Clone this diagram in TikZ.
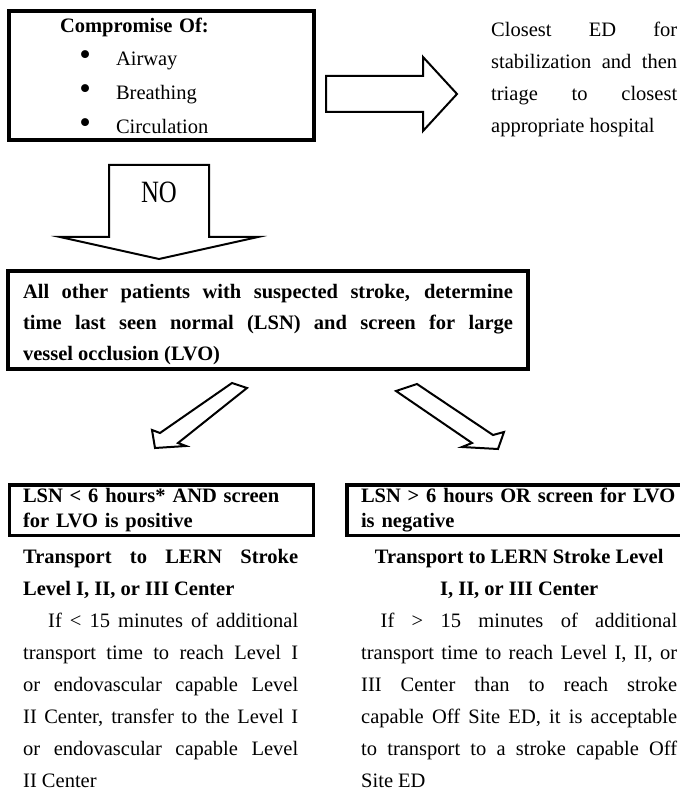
\documentclass[tikz,border=0pt]{standalone}
\usepackage{fontspec}
\setmainfont{Liberation Serif}
\newfontfamily\narrowserif[FakeStretch=0.8]{Liberation Serif}
\tolerance=10000 \hbadness=10000 \hyphenpenalty=10000
\newcommand\bul[1]{\makebox[99pt][r]{{\fontsize{33}{33}\selectfont\textbullet}\hspace{25pt}}#1}

\begin{document}
\begin{tikzpicture}[x=1pt,y=-1pt,font=\fontsize{20.5}{32}\selectfont,
    box/.style={draw,line width=3.5pt,outer sep=0pt,anchor=north west},
    txt/.style={inner sep=0pt,anchor=base west,align=justify},
    fat/.style={draw,line width=2pt,line join=miter}]
\useasboundingbox (0,0) rectangle (679,791);
\node[box,minimum width=305pt,minimum height=129pt,text width=289pt,inner xsep=8pt,
    align=left,font=\fontsize{20.5}{33.7}\selectfont] (comp) at (9,11)
    {\hspace*{43pt}\textbf{Compromise Of:}\\ \bul{Airway}\\ \bul{Breathing}\\ \bul{Circulation}};
\node[txt,text width=186pt] (ed) at (491,37)
    {Closest ED for\linebreak stabilization and then\linebreak triage to closest\linebreak appropriate hospital};
\node[anchor=base,inner sep=0pt,font=\narrowserif\fontsize{31}{31}\selectfont] (no) at (159,203) {NO};
\node[box,minimum width=520pt,minimum height=98pt,text width=490pt,inner xsep=15pt,align=justify,
    font=\bfseries\fontsize{20.5}{31}\selectfont] (all) at (8,271)
    {\rule{0pt}{24pt}All other patients with suspected stroke, determine\linebreak
    time last seen normal (LSN) and screen for large\linebreak vessel occlusion (LVO)};
\node[box,minimum width=304pt,minimum height=50.5pt,text width=277pt,inner xsep=13.5pt,
    align=left,font=\bfseries\fontsize{20.5}{25}\selectfont] (lsnl) at (9.5,485)
    {LSN < 6 hours* AND screen\\ for LVO is positive};
\node[box,minimum height=50.5pt,text width=318pt,inner xsep=14pt,
    align=left,font=\bfseries\fontsize{20.5}{25}\selectfont] (lsnr) at (347,485)
    {LSN > 6 hours OR screen for LVO\\ is negative};
\node[txt,text width=275pt] (gol) at (23,563)
    {\textbf{Transport to LERN Stroke\linebreak Level I, II, or III Center}\par
    \hspace*{25pt}If < 15 minutes of additional\linebreak transport time to reach Level I\linebreak
    or endovascular capable Level\linebreak II Center, transfer to the Level I\linebreak
    or endovascular capable Level\linebreak II Center};
\node[txt,text width=316pt] (gor) at (361,563)
    {{\centering\bfseries Transport to LERN Stroke Level\\ I, II, or III Center\par}
    \hspace*{19.5pt}If > 15 minutes of additional\linebreak transport time to reach Level I, II, or\linebreak
    III Center than to reach stroke\linebreak capable Off Site ED, it is acceptable\linebreak
    to transport to a stroke capable Off\linebreak Site ED};
\path[fat] (326,76) -- (423,76) -- (423,57) -- (457,94) -- (423,131) -- (423,112) -- (326,112) -- cycle;
\path[fat] (109,165) -- (209,165) -- (209,237) -- (258,237) -- (159,259) -- (60,237) -- (109,237) -- cycle;
\path[fat] (232,383) -- (160,433) -- (152,430) -- (155,448) -- (186,446) -- (178,443) -- (247,388) -- cycle;
\path[fat] (396,391) -- (417,384) -- (493,435) -- (504,432) -- (498,449) -- (462,447) -- (472,443) -- cycle;
\end{tikzpicture}
\end{document}
